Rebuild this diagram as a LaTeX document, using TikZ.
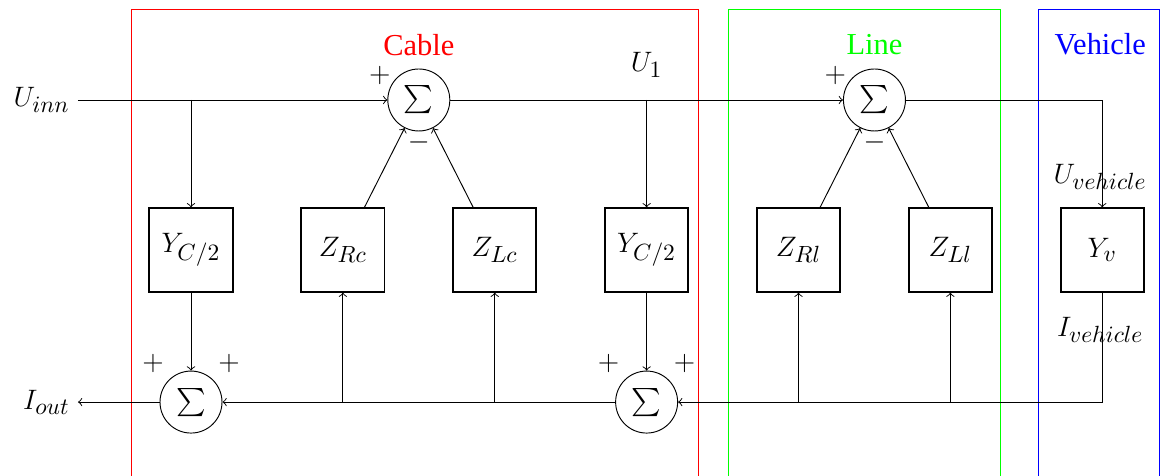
\documentclass[tikz,border=0pt]{standalone}
\usepackage{amsmath}
\usepackage{fontspec}
\setmainfont{Liberation Serif}
\DeclareMathSizes{13}{13}{10}{7.5}
\DeclareMathSizes{12}{12}{9}{7}
\usepackage{tikz}
\usetikzlibrary{shapes,positioning,calc}

\begin{document}
\begin{tikzpicture}[font=\fontsize{13}{15.6}\selectfont,
		block/.style = {draw, thick, minimum width = 1.25cm, minimum height = 1.25cm},
		sumnode/.style = {draw, circle, minimum size = 0.93cm, inner sep = 0pt,
			font = \fontsize{12}{14}\selectfont},
		tight/.style = {inner sep = 0pt},
		frame/.style = {line width = 0.4pt}]
		\useasboundingbox (-2.865,-3.39) rectangle (14.55,3.75);

		% subsystem frames
		\draw[frame, red] (-0.9,-4) rectangle (7.605,3.615);
		\draw[frame, green] (8.055,-4) rectangle (12.135,3.615);
		\draw[frame, blue] (12.705,-4) rectangle (14.52,3.615);

		\node[block] (yc1) {$Y_{C/2}$};
		\node[block, right = 1cm of yc1] (zrc) {$Z_{Rc}$};
		\node[block, right = 1cm of zrc] (zlc) {$Z_{Lc}$};
		\node[block, right = 1cm of zlc] (yc2) {$Y_{C/2}$};
		\node[block, right = 1cm of yc2] (zrl) {$Z_{Rl}$};
		\node[block, right = 1cm of zrl] (zll) {$Z_{Ll}$};
		\node[block, right = 1cm of zll] (yv) {$Y_v$};

		\node[sumnode] (sumc) at ($(zrc)!0.5!(zlc) + (0,2.25)$) {$\sum$};
		\node[sumnode] (suml) at ($(zrl)!0.5!(zll) + (0,2.25)$) {$\sum$};
		\node[sumnode, below = 1.17cm of yc1] (sumb1) {$\sum$};
		\node[sumnode, below = 1.17cm of yc2] (sumb2) {$\sum$};

		% signs
		\node[tight] (pc) at ($(sumc) + (-0.585,0.375)$) {$+$};
		\node[tight] (mc) at ($(sumc) + (0,-0.63)$) {$-$};
		\node[tight] (pl) at ($(suml) + (-0.585,0.375)$) {$+$};
		\node[tight] (ml) at ($(suml) + (0,-0.63)$) {$-$};
		\node[tight] (pb1a) at ($(sumb1) + (-0.57,0.585)$) {$+$};
		\node[tight] (pb1b) at ($(sumb1) + (0.57,0.585)$) {$+$};
		\node[tight] (pb2a) at ($(sumb2) + (-0.57,0.585)$) {$+$};
		\node[tight] (pb2b) at ($(sumb2) + (0.57,0.585)$) {$+$};

		% labels
		\node[tight, red] (cable) at ($(sumc) + (0,0.83)$) {Cable};
		\node[tight, green] (line) at ($(suml) + (0,0.83)$) {Line};
		\node[tight, blue] (vehicle) at ($(yv |- cable) + (-0.03,0)$) {Vehicle};
		\node (u1) at ($(yc2 |- sumc) + (0,0.525)$) {$U_1$};
		\node (uveh) at ($(yv) + (-0.03,1.095)$) {$U_{vehicle}$};
		\node (iveh) at ($(yv) + (-0.03,-1.2)$) {$I_{vehicle}$};
		\node[anchor = east] (uinn) at (-1.695,2.25) {$U_{inn}$};
		\node[anchor = east] (iout) at (sumb1 -| uinn.east) {$I_{out}$};

		% forward path
		\draw[->] (uinn.east) -- (sumc);
		\draw[->] (sumc) -- (suml);
		\draw[->] (suml) -| (yv);
		\draw[->] (yc1 |- sumc) -- (yc1);
		\draw[->] (yc2 |- sumc) -- (yc2);
		\draw[->] (zrc) -- (sumc);
		\draw[->] (zlc) -- (sumc);
		\draw[->] (zrl) -- (suml);
		\draw[->] (zll) -- (suml);

		% return path
		\draw[->] (yv) |- (sumb2);
		\draw[->] (zll |- sumb2) -- (zll);
		\draw[->] (zrl |- sumb2) -- (zrl);
		\draw[->] (yc2) -- (sumb2);
		\draw[->] (sumb2) -- (sumb1);
		\draw[->] (zlc |- sumb1) -- (zlc);
		\draw[->] (zrc |- sumb1) -- (zrc);
		\draw[->] (yc1) -- (sumb1);
		\draw[->] (sumb1) -- (iout.east);

	\end{tikzpicture}
\end{document}
